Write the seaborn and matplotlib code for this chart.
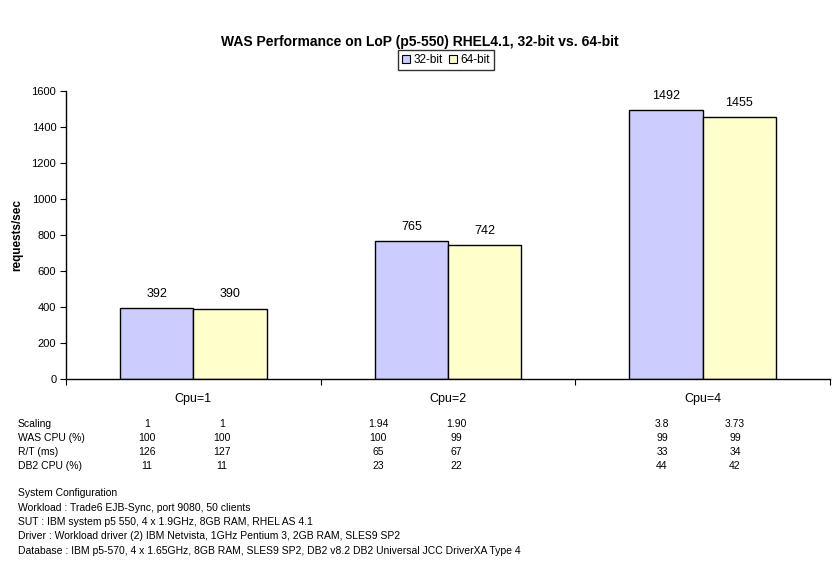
import matplotlib
matplotlib.use("Agg")
import matplotlib.pyplot as plt
import seaborn as sns
import pandas as pd
from matplotlib.patches import Patch

categories = ["Cpu=1", "Cpu=2", "Cpu=4"]
series = ["32-bit", "64-bit"]
vals_32 = [392, 765, 1492]
vals_64 = [390, 742, 1455]
colors = ["#CCCCFF", "#FFFFCC"]

row_labels = ["Scaling", "WAS CPU (%)", "R/T (ms)", "DB2 CPU (%)"]
row_values = [
    ["1", "1", "1.94", "1.90", "3.8", "3.73"],
    ["100", "100", "100", "99", "99", "99"],
    ["126", "127", "65", "67", "33", "34"],
    ["11", "11", "23", "22", "44", "42"],
]
config_lines = [
    "System Configuration",
    "Workload : Trade6 EJB-Sync, port 9080, 50 clients",
    "SUT : IBM system p5 550, 4 x 1.9GHz, 8GB RAM, RHEL AS 4.1",
    "Driver : Workload driver (2) IBM Netvista, 1GHz Pentium 3, 2GB RAM, SLES9 SP2",
    "Database : IBM p5-570, 4 x 1.65GHz, 8GB RAM, SLES9 SP2, DB2 v8.2 DB2 Universal JCC DriverXA Type 4",
]

df = pd.DataFrame({
    "cat": categories * 2,
    "series": [series[0]] * 3 + [series[1]] * 3,
    "val": vals_32 + vals_64,
})

sns.set_style("white")
plt.rcParams["font.family"] = ["Liberation Sans", "DejaVu Sans"]
plt.rcParams["text.color"] = "black"
plt.rcParams["axes.labelcolor"] = "black"
plt.rcParams["xtick.color"] = "black"
plt.rcParams["ytick.color"] = "black"

W, H = 833, 563
fig = plt.figure(figsize=(W / 100, H / 100), dpi=100)
ax = fig.add_axes([66 / W, 1 - 379 / H, (830 - 66) / W, (379 - 91) / H])

sns.barplot(data=df, x="cat", y="val", hue="series", palette=colors,
            width=0.575, edgecolor="black", linewidth=1.0, ax=ax,
            saturation=1, legend=False)

for cont in ax.containers:
    ax.bar_label(cont, fmt="%d", padding=6, fontsize=9, color="black")

ax.set_ylim(0, 1600)
ax.set_xlim(-0.5, 2.5)
ax.set_yticks(range(0, 1601, 200))
ax.tick_params(axis="y", labelsize=8, length=4, width=0.8, direction="out", left=True, pad=3)
ax.set_xticks([0, 1, 2])
ax.set_xticklabels(categories, fontsize=9)
ax.tick_params(axis="x", length=0, pad=10)
ax.set_xticks([-0.5, 0.5, 1.5, 2.5], minor=True)
ax.tick_params(axis="x", which="minor", length=4, width=0.8, direction="out", bottom=True)
ax.set_xlabel("")
ax.set_ylabel("requests/sec", fontsize=8.5, fontweight="bold", labelpad=6)
for s in ["top", "right"]:
    ax.spines[s].set_visible(False)
for s in ["left", "bottom"]:
    ax.spines[s].set_color("black")
    ax.spines[s].set_linewidth(1.0)

fig.text(420 / W, 1 - 42 / H, "WAS Performance on LoP (p5-550) RHEL4.1, 32-bit vs. 64-bit",
         ha="center", va="center", fontsize=10, fontweight="bold")

handles = [Patch(facecolor=c, edgecolor="black", linewidth=0.8) for c in colors]
fig.legend(handles, series, loc="center", bbox_to_anchor=(446 / W, 1 - 60 / H),
           ncol=2, fontsize=8.5, frameon=True, fancybox=False, edgecolor="black",
           handlelength=0.7, handleheight=0.7, handletextpad=0.3, columnspacing=0.5,
           borderpad=0.35, borderaxespad=0)

col_x = [147, 222, 378, 456, 662, 735]
row_y = [424, 438, 452, 466]
for lab, vals, y in zip(row_labels, row_values, row_y):
    fig.text(18 / W, 1 - y / H, lab, ha="left", va="center", fontsize=7.5)
    for v, x in zip(vals, col_x):
        fig.text(x / W, 1 - y / H, v, ha="center", va="center", fontsize=7.5)

cfg_y = [493, 508, 522, 536, 551]
for line, y in zip(config_lines, cfg_y):
    fig.text(18 / W, 1 - y / H, line, ha="left", va="center", fontsize=7.5)

fig.savefig("out.png", dpi=100)
